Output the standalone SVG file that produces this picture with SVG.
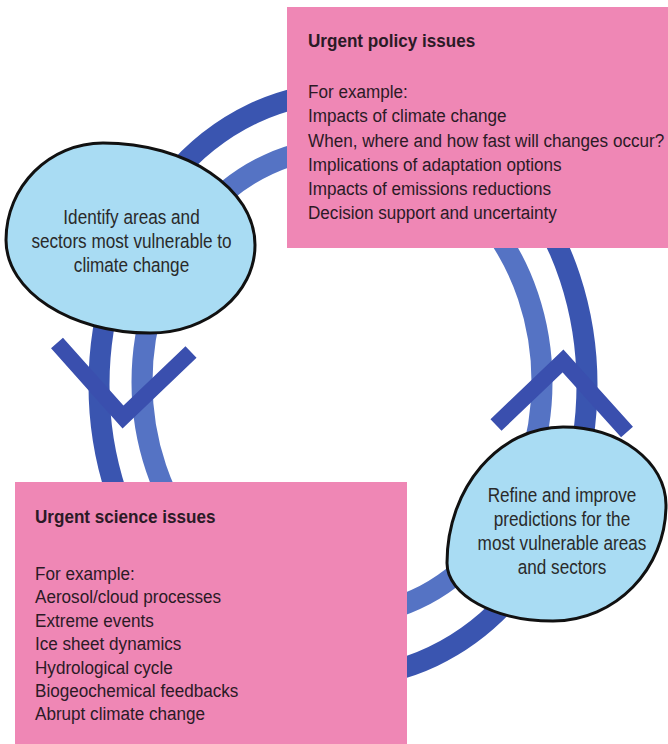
<svg xmlns="http://www.w3.org/2000/svg" width="668" height="744" viewBox="0 0 668 744">
<style>
  .ringOuter{fill:none;stroke:#3a55b0;stroke-width:21}
  .ringInner{fill:none;stroke:#5573c4;stroke-width:21}
  .chev{fill:none;stroke:#3a4fae;stroke-width:16;stroke-linejoin:miter;stroke-linecap:butt}
  .box{fill:#ef87b5}
  .node{fill:#a9dcf3;stroke:#111;stroke-width:3}
  .t{font-family:"Liberation Sans",Arial,sans-serif;font-size:19px;fill:#2b1a26}
  .tb{font-weight:bold}
  .tn{font-family:"Liberation Sans",Arial,sans-serif;font-size:19.5px;fill:#2a2a2a;text-anchor:middle}
</style>
<rect width="668" height="744" fill="#ffffff"/>
<g id="connectors">
  <ellipse class="ringOuter" cx="343" cy="385" rx="244" ry="292"/>
  <ellipse class="ringInner" cx="342" cy="382" rx="200" ry="234"/>
  <polyline class="chev" points="57,343 123,417 191,352"/>
  <polyline class="chev" points="496,425 563,361 627,432"/>
</g>
<g id="policy">
  <rect class="box" x="287" y="7" width="381" height="241"/>
  <g transform="translate(308,0) scale(0.9,1)">
    <text class="t tb" x="0" y="47">Urgent policy issues</text>
    <text class="t" x="0" y="98">For example:</text>
    <text class="t" x="0" y="122.3">Impacts of climate change</text>
    <text class="t" x="0" y="146.6">When, where and how fast will changes occur?</text>
    <text class="t" x="0" y="170.9">Implications of adaptation options</text>
    <text class="t" x="0" y="195.2">Impacts of emissions reductions</text>
    <text class="t" x="0" y="219.5">Decision support and uncertainty</text>
  </g>
</g>
<g id="science">
  <rect class="box" x="15" y="482" width="392" height="262"/>
  <g transform="translate(35,0) scale(0.9,1)">
    <text class="t tb" x="0" y="523">Urgent science issues</text>
    <text class="t" x="0" y="580">For example:</text>
    <text class="t" x="0" y="603.4">Aerosol/cloud processes</text>
    <text class="t" x="0" y="626.8">Extreme events</text>
    <text class="t" x="0" y="650.2">Ice sheet dynamics</text>
    <text class="t" x="0" y="673.6">Hydrological cycle</text>
    <text class="t" x="0" y="697">Biogeochemical feedbacks</text>
    <text class="t" x="0" y="720.4">Abrupt climate change</text>
  </g>
</g>
<g id="identify">
  <path class="node" d="M6,240 C6,186.4 49.4,143 103,143 C186.9,143 255,188.7 255,245 C255,293.6 208,333 150,333 C70.5,333 6,291.4 6,240 Z"/>
  <g transform="translate(131.5,0) scale(0.88,1)">
    <text class="tn" x="0" y="224">Identify areas and</text>
    <text class="tn" x="0" y="248">sectors most vulnerable to</text>
    <text class="tn" x="0" y="272">climate change</text>
  </g>
</g>
<g id="refine">
  <path class="node" d="M447,563 C447,487.9 498.9,427 563,427 C619.9,427 666,461.9 666,505 C666,569.1 615.4,621 553,621 C494.5,621 447,595 447,563 Z"/>
  <g transform="translate(562,0) scale(0.88,1)">
    <text class="tn" x="0" y="502">Refine and improve</text>
    <text class="tn" x="0" y="526">predictions for the</text>
    <text class="tn" x="0" y="550">most vulnerable areas</text>
    <text class="tn" x="0" y="574">and sectors</text>
  </g>
</g>
</svg>
